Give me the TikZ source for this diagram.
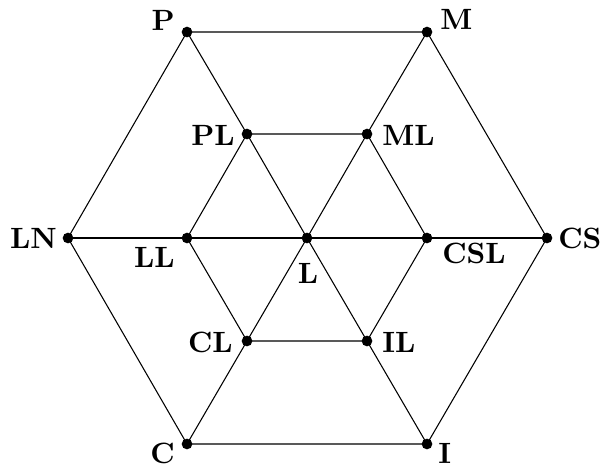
\documentclass[tikz,border=0pt]{standalone}
\usepackage{fontspec}
\newfontfamily\lbfont{lmroman10-bold}[Extension=.otf]
\begin{document}
\begin{tikzpicture}[x=0.75pt,y=-0.75pt,
  dot/.style={circle,fill=black,inner sep=0pt,minimum size=8pt},
  lbl/.style={font=\lbfont\fontsize{22}{26}\selectfont,inner sep=0pt},
  edge/.style={line width=0.8pt}]
\useasboundingbox (0,0) rectangle (602,469);
\node[dot] (P) at (187,32) {};
\node[dot] (M) at (427,32) {};
\node[dot] (LN) at (68,238) {};
\node[dot] (CS) at (547,238) {};
\node[dot] (C) at (187,444) {};
\node[dot] (I) at (427,444) {};
\node[dot] (PL) at (247,134) {};
\node[dot] (ML) at (367,134) {};
\node[dot] (LL) at (187,238) {};
\node[dot] (CSL) at (427,238) {};
\node[dot] (L) at (307,238) {};
\node[dot] (CL) at (247,341) {};
\node[dot] (IL) at (367,341) {};
% labels
\node[lbl,anchor=south east] (Pt) at ([shift={(-12,-1)}]P.center) {P};
\node[lbl,anchor=south west] (Mt) at ([shift={(13,-2)}]M.center) {M};
\node[lbl,anchor=east] (LNt) at ([shift={(-11,0.5)}]LN.center) {LN};
\node[lbl,anchor=west] (CSt) at ([shift={(11,0.5)}]CS.center) {CS};
\node[lbl,anchor=south east] (Ct) at ([shift={(-12,20)}]C.center) {C};
\node[lbl,anchor=south west] (It) at ([shift={(11,20)}]I.center) {I};
\node[lbl,anchor=east] (PLt) at ([shift={(-12,1)}]PL.center) {PL};
\node[lbl,anchor=west] (MLt) at ([shift={(15,1)}]ML.center) {ML};
\node[lbl,anchor=north east] (LLt) at ([shift={(-12,9)}]LL.center) {LL};
\node[lbl,anchor=north west] (CSLt) at ([shift={(15,5)}]CSL.center) {CSL};
\node[lbl,anchor=north] (Lt) at ([shift={(1,25)}]L.center) {L};
\node[lbl,anchor=east] (CLt) at ([shift={(-14,1)}]CL.center) {CL};
\node[lbl,anchor=west] (ILt) at ([shift={(15,1)}]IL.center) {IL};
% edges
\draw[edge] (P.center) -- (M.center) -- (CS.center) -- (I.center) -- (C.center) -- (LN.center) -- cycle;
\draw[edge] (LN.center) -- (LL.center) -- (L.center) -- (CSL.center) -- (CS.center);
\draw[edge] (P.center) -- (PL.center) -- (L.center) -- (IL.center) -- (I.center);
\draw[edge] (M.center) -- (ML.center) -- (L.center) -- (CL.center) -- (C.center);
\draw[edge] (PL.center) -- (ML.center) -- (CSL.center) -- (IL.center) -- (CL.center) -- (LL.center) -- cycle;
\end{tikzpicture}
\end{document}
